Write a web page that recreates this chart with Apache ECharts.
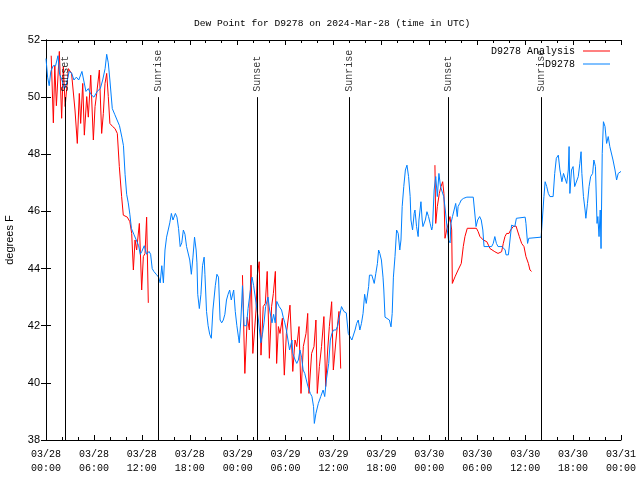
<!DOCTYPE html>
<html><head><meta charset="utf-8">
<script src="https://cdn.jsdelivr.net/npm/echarts/dist/echarts.min.js"></script>
<style>html,body{margin:0;padding:0;background:#fff}#c{width:640px;height:480px}</style>
</head><body><div id="c"></div>
<script>
const titleText = 'Dew Point for D9278 on 2024-Mar-28 (time in UTC)';
const yName = 'degrees F';
const seriesNames = ['D9278 Analysis', 'D9278'];

// hours since 03/28 00:00 UTC
const blueHours = [0.0,0.2,0.4,0.6,0.9,1.2,1.5,1.7,2.0,2.3,2.6,2.9,3.2,3.5,3.8,4.1,4.5,4.7,5.0,5.3,5.6,6.0,6.4,6.8,7.1,7.4,7.6,7.8,8.0,8.3,8.6,8.9,9.2,9.5,9.7,9.9,10.1,10.3,10.5,10.7,11.0,11.3,11.6,11.8,12.0,12.3,12.6,12.9,13.1,13.3,13.5,13.8,14.1,14.3,14.5,14.7,14.9,15.1,15.3,15.5,15.7,15.9,16.2,16.4,16.6,16.8,17.0,17.2,17.4,17.6,17.8,18.0,18.2,18.4,18.6,18.8,18.9,19.0,19.2,19.4,19.6,19.8,19.9,20.1,20.3,20.5,20.7,20.9,21.2,21.4,21.6,21.8,22.0,22.2,22.4,22.6,22.8,23.0,23.2,23.5,23.7,23.9,24.1,24.2,24.4,24.6,24.8,25.1,25.3,25.6,25.8,26.0,26.3,26.6,26.9,27.1,27.3,27.5,27.8,28.0,28.3,28.5,28.7,28.9,29.2,29.5,29.7,29.9,30.1,30.3,30.5,30.8,30.9,31.2,31.4,31.6,31.8,32.0,32.2,32.4,32.6,32.8,33.1,33.3,33.5,33.6,33.8,34.1,34.4,34.7,34.9,35.1,35.4,35.6,35.8,36.0,36.3,36.5,36.7,37.0,37.3,37.6,37.85,38.1,38.3,38.5,38.7,38.9,39.1,39.3,39.5,39.7,39.9,40.1,40.4,40.5,40.8,41.0,41.1,41.3,41.5,41.65,41.8,42.0,42.2,42.3,42.45,42.65,43.0,43.2,43.35,43.5,43.7,43.9,44.1,44.3,44.45,44.6,44.8,45.0,45.2,45.4,45.6,45.7,45.9,46.1,46.2,46.4,46.6,46.7,46.95,47.1,47.2,47.5,47.7,47.9,48.1,48.3,48.4,48.6,48.8,49.0,49.2,49.4,49.6,49.8,50.0,50.25,50.4,50.6,50.7,50.9,51.1,51.3,51.5,51.6,51.8,52.0,52.3,52.7,53.5,53.7,53.85,54.05,54.3,54.5,54.7,54.85,55.5,55.8,56.0,56.2,56.4,56.6,56.8,57.1,57.3,57.5,57.6,57.9,58.1,58.3,58.5,58.7,58.9,59.1,60.0,60.1,60.3,60.45,60.6,62.0,62.2,62.35,62.5,62.7,62.9,63.1,63.5,63.7,63.9,64.15,64.35,64.6,64.8,65.0,65.2,65.4,65.5,65.6,65.8,66.0,66.2,66.45,66.65,66.85,67.0,67.1,67.3,67.5,67.6,67.8,68.0,68.2,68.45,68.6,68.8,69.0,69.1,69.25,69.4,69.5,69.65,69.8,70.0,70.2,70.4,70.6,70.8,71.0,71.25,71.45,71.65,71.85,72.0];
const blueValues = [51.35,50.7,50.4,50.9,51.1,51.1,51.45,50.8,50.6,50.3,50.5,50.9,50.85,50.6,50.7,50.6,50.9,50.85,50.2,50.3,50.1,50.0,50.2,50.3,50.6,51.0,51.5,51.2,50.6,49.6,49.4,49.2,49.0,48.6,48.3,47.3,46.6,46.3,45.9,45.4,45.2,45.0,44.8,44.5,44.6,44.8,44.5,44.6,44.5,44.0,43.9,43.8,43.7,43.5,44.1,43.5,44.65,45.1,45.35,45.6,45.93,45.7,45.93,45.8,45.4,44.77,44.9,45.35,45.2,44.77,44.8,44.3,43.8,44.4,45.1,44.65,44.2,43.1,42.6,43.1,44.1,44.4,43.8,42.5,42.0,41.7,41.56,42.55,43.4,43.8,43.7,42.2,42.1,42.2,42.4,42.9,43.1,43.25,42.9,43.25,42.5,42.0,41.6,41.4,42.2,43.4,42.0,42.0,42.6,43.25,43.7,43.4,42.8,42.2,41.4,41.7,42.1,42.67,43.0,42.55,42.1,42.4,42.1,42.85,42.67,42.55,42.3,42.1,41.85,41.5,41.15,41.5,41.03,40.8,40.68,40.8,41.15,40.9,40.45,40.33,40.1,39.87,39.63,39.52,39.17,38.58,38.93,39.28,39.52,39.75,39.52,40.1,40.68,41.5,41.73,41.85,41.85,41.97,41.97,42.67,42.5,42.45,41.73,41.6,41.5,41.55,41.85,42.08,42.2,41.85,42.08,42.43,43.1,42.78,43.37,43.77,43.77,43.7,43.48,43.83,44.18,44.65,44.53,44.3,43.7,43.25,42.3,42.26,42.2,41.96,42.43,43.7,44.42,45.35,45.23,44.65,45.0,46.17,46.87,47.45,47.62,47.22,46.52,45.7,45.35,45.93,46.05,45.47,45.12,45.7,46.34,45.7,45.47,45.7,45.99,45.82,45.58,45.35,45.47,46.75,47.22,46.52,47.33,46.87,46.87,46.52,46.05,45.35,45.0,44.9,45.58,45.82,46.05,46.28,45.82,46.17,46.28,46.4,46.46,46.5,46.5,46.46,45.47,45.7,45.82,45.7,45.35,44.77,44.77,44.77,44.88,45.12,44.88,44.77,44.8,44.77,44.8,44.65,44.48,44.48,45.0,45.52,45.52,45.47,45.76,45.8,45.8,45.58,44.88,45.06,45.1,45.1,45.12,46.52,47.04,46.87,46.63,46.52,46.52,47.33,47.86,47.97,47.45,47.04,47.33,47.33,46.98,47.45,48.27,46.63,47.45,47.57,46.87,46.92,47.22,47.68,48.09,47.33,46.52,46.05,45.76,46.28,46.87,47.22,47.33,47.8,47.57,45.58,45.82,45.12,46.05,44.7,48.03,49.14,48.97,48.38,48.62,48.27,48.27,47.8,47.45,47.1,47.33,47.33,47.4];

// null marks a gap in the analysis record
const redHours = [0.65,0.75,0.92,1.1,1.3,1.67,1.96,2.17,2.4,2.8,3.2,3.63,3.92,4.17,4.34,4.6,4.8,5.1,5.3,5.6,5.93,6.14,6.35,6.68,6.97,7.18,7.39,7.6,7.8,8.0,8.35,8.64,8.93,9.18,9.47,9.68,10.18,10.5,10.73,10.94,11.15,11.35,11.69,11.98,12.19,12.4,12.6,12.81,
  18,
  24.6,24.9,25.2,25.46,25.67,25.9,26.3,26.46,26.7,26.92,27.2,27.46,27.7,27.97,28.25,28.47,28.72,28.88,29.1,29.3,29.6,29.84,30.1,30.55,30.9,31.18,31.4,31.68,31.93,32.22,32.56,32.77,32.93,33.26,33.56,33.8,33.97,34.23,34.5,34.8,35.02,35.27,35.48,35.77,35.98,36.31,36.48,36.69,36.9,
  42,
  48.7,48.8,49.0,49.25,49.46,49.67,49.83,49.96,50.17,50.38,50.58,50.7,50.8,50.88,51.21,51.6,52.0,52.25,52.46,52.75,53.9,54.1,54.34,54.55,54.76,55.2,55.4,55.6,55.8,56.2,56.6,57.05,57.26,57.47,57.68,57.97,58.18,58.5,58.85,59.0,59.27,59.56,59.85,60.1,60.4,60.6,60.8];
const redValues = [51.45,51.45,49.1,51.1,49.7,51.6,49.26,51.07,49.67,51.0,50.83,49.55,48.38,50.13,49.08,50.48,48.67,50.02,49.3,50.77,48.5,49.67,50.13,50.95,48.73,49.43,50.48,50.83,50.02,49.08,48.97,48.9,48.73,47.57,46.52,45.87,45.8,45.64,45.23,43.95,45.0,44.65,45.58,43.25,44.42,44.53,45.8,42.8,
  null,
  43.77,40.33,42.3,41.85,44.12,41.03,42.55,43.77,44.24,40.97,42.67,42.78,43.9,40.86,42.67,43.13,43.9,40.68,41.97,41.73,42.26,40.27,41.73,42.72,40.4,41.5,41.27,41.97,39.63,41.27,41.73,42.43,39.63,41.03,41.27,42.2,39.63,40.57,41.27,42.32,39.87,41.15,41.97,42.84,40.45,41.5,41.97,42.5,40.5,
  null,
  47.62,45.58,46.17,46.63,46.87,47.04,46.63,45.06,45.35,45.58,45.82,45.88,45.35,43.48,43.71,43.95,44.18,44.77,45.12,45.41,45.41,45.3,45.12,45.06,45.0,44.94,44.82,44.7,44.65,44.59,44.53,44.59,44.88,45.12,45.23,45.23,45.35,45.47,45.49,45.47,45.12,44.88,44.77,44.42,44.18,43.95,43.9];

const sunHours = [2.38, 14.02, 26.42, 37.94, 50.34, 61.98];
const sunLabels = ['Sunset', 'Sunrise', 'Sunset', 'Sunrise', 'Sunset', 'Sunrise'];

const X_MIN = 0, X_MAX = 72, X_STEP = 6;
const Y_MIN = 38, Y_MAX = 52, Y_STEP = 2;
const SUN_LINE_TOP = 50.0, SUN_LABEL_AT = 50.15;

const mono = 'Liberation Mono';
const sans = 'Liberation Sans';
const pad = n => (n < 10 ? '0' : '') + n;
function fmtX(h) {
  const d = 28 + Math.floor(h / 24);
  return '03/' + pad(d) + '\n' + pad(h % 24) + ':00';
}

const blueData = blueHours.map((h, i) => [h, blueValues[i]]);
const redData = redHours.map((h, i) => [h, redValues[i] === null ? '-' : redValues[i]]);
const sunData = sunHours.map((h, i) => [h, SUN_LABEL_AT, sunLabels[i]]);
const sunLines = sunHours.map(h => [{coord: [h, Y_MIN]}, {coord: [h, SUN_LINE_TOP]}]);

const chart = echarts.init(document.getElementById('c'), null, {renderer: 'canvas'});
const axisLine = {show: true, lineStyle: {color: '#000', width: 1}};
chart.setOption({
  animation: false,
  backgroundColor: '#fff',
  title: {
    text: titleText, left: 189, top: 13,
    textStyle: {fontFamily: mono, fontSize: 9.6, fontWeight: 'normal', color: '#000'}
  },
  legend: [
    {data: [seriesNames[0]], right: 30, top: 46, align: 'right', orient: 'vertical',
     itemWidth: 27, itemHeight: 1, icon: 'rect', itemGap: 2, padding: 0,
     textStyle: {fontFamily: mono, fontSize: 10, color: '#000', padding: [0, 3, 0, 0]}},
    {data: [seriesNames[1]], right: 30, top: 59, align: 'right', orient: 'vertical',
     itemWidth: 27, itemHeight: 1, icon: 'rect', itemGap: 2, padding: 0,
     textStyle: {fontFamily: mono, fontSize: 10, color: '#000', padding: [0, 3, 0, 0]}}
  ],
  grid: {left: 46, top: 40, width: 575, height: 400, containLabel: false, outerBoundsMode: 'none'},
  xAxis: [
    {type: 'value', min: X_MIN, max: X_MAX, interval: X_STEP, position: 'bottom',
     axisLine: axisLine,
     axisTick: {show: true, inside: true, length: 5, lineStyle: {color: '#000'}},
     minorTick: {show: true, splitNumber: 3, length: 3, lineStyle: {color: '#000'}},
     splitLine: {show: false},
     axisLabel: {formatter: fmtX, fontFamily: mono, fontSize: 10, color: '#000', lineHeight: 14, margin: 7,
                 showMinLabel: true, showMaxLabel: true}},
    {type: 'value', min: X_MIN, max: X_MAX, interval: X_STEP, position: 'top',
     axisLine: axisLine,
     axisTick: {show: true, inside: true, length: 5, lineStyle: {color: '#000'}},
     minorTick: {show: true, splitNumber: 3, length: 3, lineStyle: {color: '#000'}},
     splitLine: {show: false}, axisLabel: {show: false}}
  ],
  yAxis: [
    {type: 'value', min: Y_MIN, max: Y_MAX, interval: Y_STEP, position: 'left',
     name: yName, nameLocation: 'middle', nameRotate: 90, nameGap: 31,
     nameTextStyle: {fontFamily: sans, fontSize: 11, color: '#000'},
     axisLine: axisLine,
     axisTick: {show: true, inside: true, length: 5, lineStyle: {color: '#000'}},
     splitLine: {show: false},
     axisLabel: {fontFamily: sans, fontSize: 11, color: '#000', margin: 6,
                 showMinLabel: true, showMaxLabel: true}},
    {type: 'value', min: Y_MIN, max: Y_MAX, interval: Y_STEP, position: 'right',
     axisLine: axisLine,
     axisTick: {show: true, inside: true, length: 5, lineStyle: {color: '#000'}},
     splitLine: {show: false}, axisLabel: {show: false}}
  ],
  series: [
    {name: seriesNames[0], type: 'line', data: redData, showSymbol: false, symbol: 'none',
     connectNulls: false, color: '#ff0000', lineStyle: {width: 1, color: '#ff0000'}, z: 2},
    {name: seriesNames[1], type: 'line', data: blueData, showSymbol: false, symbol: 'none',
     color: '#0080ff', lineStyle: {width: 1, color: '#0080ff'}, z: 3},
    {name: 'sun', type: 'scatter', data: sunData, symbolSize: 0, z: 4, silent: true,
     label: {show: true, formatter: p => p.data[2], rotate: 90, position: 'inside',
             align: 'left', verticalAlign: 'middle', offset: [1, 0],
             fontFamily: mono, fontSize: 10, color: '#000'},
     markLine: {symbol: 'none', silent: true, label: {show: false},
                lineStyle: {color: '#000', width: 1, type: 'solid'},
                emphasis: {disabled: true}, data: sunLines}}
  ]
});
</script>
</body></html>
